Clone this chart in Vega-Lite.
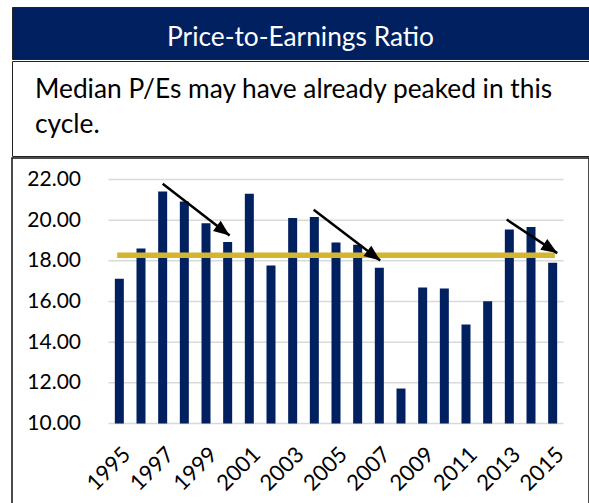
{
  "$schema": "https://vega.github.io/schema/vega-lite/v6.json",
  "padding": {"left": 11, "top": 6, "right": 0, "bottom": 0},
  "spacing": 0,
  "config": {"font": "Lato"},
  "datasets": {
    "pe": [
      {"year": 1995, "pe": 17.12}, {"year": 1996, "pe": 18.61}, {"year": 1997, "pe": 21.41},
      {"year": 1998, "pe": 20.92}, {"year": 1999, "pe": 19.85}, {"year": 2000, "pe": 18.93},
      {"year": 2001, "pe": 21.30}, {"year": 2002, "pe": 17.77}, {"year": 2003, "pe": 20.11},
      {"year": 2004, "pe": 20.16}, {"year": 2005, "pe": 18.90}, {"year": 2006, "pe": 18.79},
      {"year": 2007, "pe": 17.66}, {"year": 2008, "pe": 11.72}, {"year": 2009, "pe": 16.69},
      {"year": 2010, "pe": 16.64}, {"year": 2011, "pe": 14.87}, {"year": 2012, "pe": 16.01},
      {"year": 2013, "pe": 19.54}, {"year": 2014, "pe": 19.67}, {"year": 2015, "pe": 17.90}
    ],
    "grid": [{"v": 10}, {"v": 12}, {"v": 14}, {"v": 16}, {"v": 18}, {"v": 20}, {"v": 22}],
    "avg": [{"from": 1994.9, "to": 2015.1, "v": 18.28}],
    "arrows": [
      {"id": 1, "x0": 1997.0, "v0": 21.79, "x1": 2000.09, "v1": 19.25},
      {"id": 2, "x0": 2003.97, "v0": 20.51, "x1": 2007.04, "v1": 18.02},
      {"id": 3, "x0": 2012.88, "v0": 20.03, "x1": 2015.21, "v1": 18.38}
    ]
  },
  "vconcat": [
    {
      "width": 577,
      "height": 52,
      "data": {"values": [{"t": "Price-to-Earnings Ratio"}]},
      "mark": {"type": "text", "color": "#ffffff", "fontSize": 26.3, "font": "Lato", "align": "center", "baseline": "alphabetic", "dy": 12.5},
      "encoding": {
        "text": {"field": "t", "type": "nominal"},
        "x": {"field": "t", "type": "nominal", "axis": null},
        "y": {"field": "t", "type": "nominal", "axis": null}
      },
      "view": {"fill": "#002060", "stroke": "#222222", "strokeWidth": 1}
    },
    {
      "width": 577,
      "height": 95,
      "data": {"values": [{"t": "Median P/Es may have already peaked in this\ncycle."}]},
      "mark": {"type": "text", "color": "#000000", "fontSize": 26.3, "font": "Lato", "align": "left", "baseline": "alphabetic", "lineBreak": "\n", "lineHeight": 35, "dx": 23, "dy": -10.7},
      "encoding": {
        "text": {"field": "t", "type": "nominal"},
        "x": {"field": "t", "type": "nominal", "axis": null, "scale": {"type": "point", "padding": 0, "align": 0}},
        "y": {"field": "t", "type": "nominal", "axis": null}
      },
      "view": {"fill": "#ffffff", "stroke": "#222222", "strokeWidth": 1}
    },
    {
      "width": 577,
      "height": 346,
      "view": {"fill": "#ffffff", "stroke": "#111111", "strokeWidth": 1.5},
      "layer": [
        {
          "data": {"name": "grid"},
          "mark": {"type": "rule", "color": "#D9D9D9", "strokeWidth": 1.5},
          "encoding": {
            "x": {"datum": 1994.5, "type": "quantitative", "title": null},
            "x2": {"datum": 2015.5},
            "y": {"field": "v", "type": "quantitative", "title": null}
          }
        },
        {
          "data": {"name": "pe"},
          "mark": {"type": "bar", "width": 9, "color": "#002060"},
          "encoding": {
            "x": {
              "field": "year", "type": "quantitative", "title": null,
              "scale": {"domain": [1994.5, 2015.5], "range": [91.5, 556.5], "nice": false, "zero": false},
              "axis": {
                "values": [1995, 1997, 1999, 2001, 2003, 2005, 2007, 2009, 2011, 2013, 2015],
                "format": "d", "domain": false, "ticks": false, "tickSize": 0, "grid": false,
                "labelAngle": -45, "labelAlign": "right", "labelBaseline": "top",
                "labelPadding": 20, "offset": -80.5, "labelFontSize": 22, "labelFont": "Lato",
                "labelColor": "#000000", "labelOverlap": false, "labelFlush": false, "title": null
              }
            },
            "y": {
              "field": "pe", "type": "quantitative", "title": null,
              "scale": {"domain": [10, 22], "range": [265.5, 21.5], "nice": false, "zero": false},
              "axis": {
                "values": [10, 12, 14, 16, 18, 20, 22],
                "format": ".2f", "domain": false, "ticks": false, "tickSize": 0, "grid": false,
                "labelPadding": 2, "offset": -70.5, "labelFontSize": 21, "labelFont": "Lato",
                "labelColor": "#000000", "labelOverlap": false, "labelFlush": false, "title": null
              }
            },
            "y2": {"datum": 10}
          }
        },
        {
          "data": {"name": "avg"},
          "mark": {"type": "rule", "color": "#D3B52F", "strokeWidth": 5.5},
          "encoding": {
            "x": {"field": "from", "type": "quantitative", "title": null},
            "x2": {"field": "to"},
            "y": {"field": "v", "type": "quantitative", "title": null}
          }
        },
        {
          "data": {"name": "arrows"},
          "mark": {"type": "rule", "color": "#000000", "strokeWidth": 2.5},
          "encoding": {
            "x": {"field": "x0", "type": "quantitative", "title": null},
            "x2": {"field": "x1"},
            "y": {"field": "v0", "type": "quantitative", "title": null},
            "y2": {"field": "v1"}
          }
        },
        {
          "data": {"name": "arrows"},
          "transform": [{"filter": "datum.id == 1"}],
          "mark": {"type": "point", "shape": "M0,0 L-0.8,2 L0.8,2 Z", "filled": true, "color": "#000000", "opacity": 1, "size": 256, "angle": 127, "strokeWidth": 0},
          "encoding": {
            "x": {"field": "x1", "type": "quantitative", "title": null},
            "y": {"field": "v1", "type": "quantitative", "title": null}
          }
        },
        {
          "data": {"name": "arrows"},
          "transform": [{"filter": "datum.id == 2"}],
          "mark": {"type": "point", "shape": "M0,0 L-0.8,2 L0.8,2 Z", "filled": true, "color": "#000000", "opacity": 1, "size": 256, "angle": 127, "strokeWidth": 0},
          "encoding": {
            "x": {"field": "x1", "type": "quantitative", "title": null},
            "y": {"field": "v1", "type": "quantitative", "title": null}
          }
        },
        {
          "data": {"name": "arrows"},
          "transform": [{"filter": "datum.id == 3"}],
          "mark": {"type": "point", "shape": "M0,0 L-0.8,2 L0.8,2 Z", "filled": true, "color": "#000000", "opacity": 1, "size": 256, "angle": 123, "strokeWidth": 0},
          "encoding": {
            "x": {"field": "x1", "type": "quantitative", "title": null},
            "y": {"field": "v1", "type": "quantitative", "title": null}
          }
        }
      ]
    }
  ]
}
